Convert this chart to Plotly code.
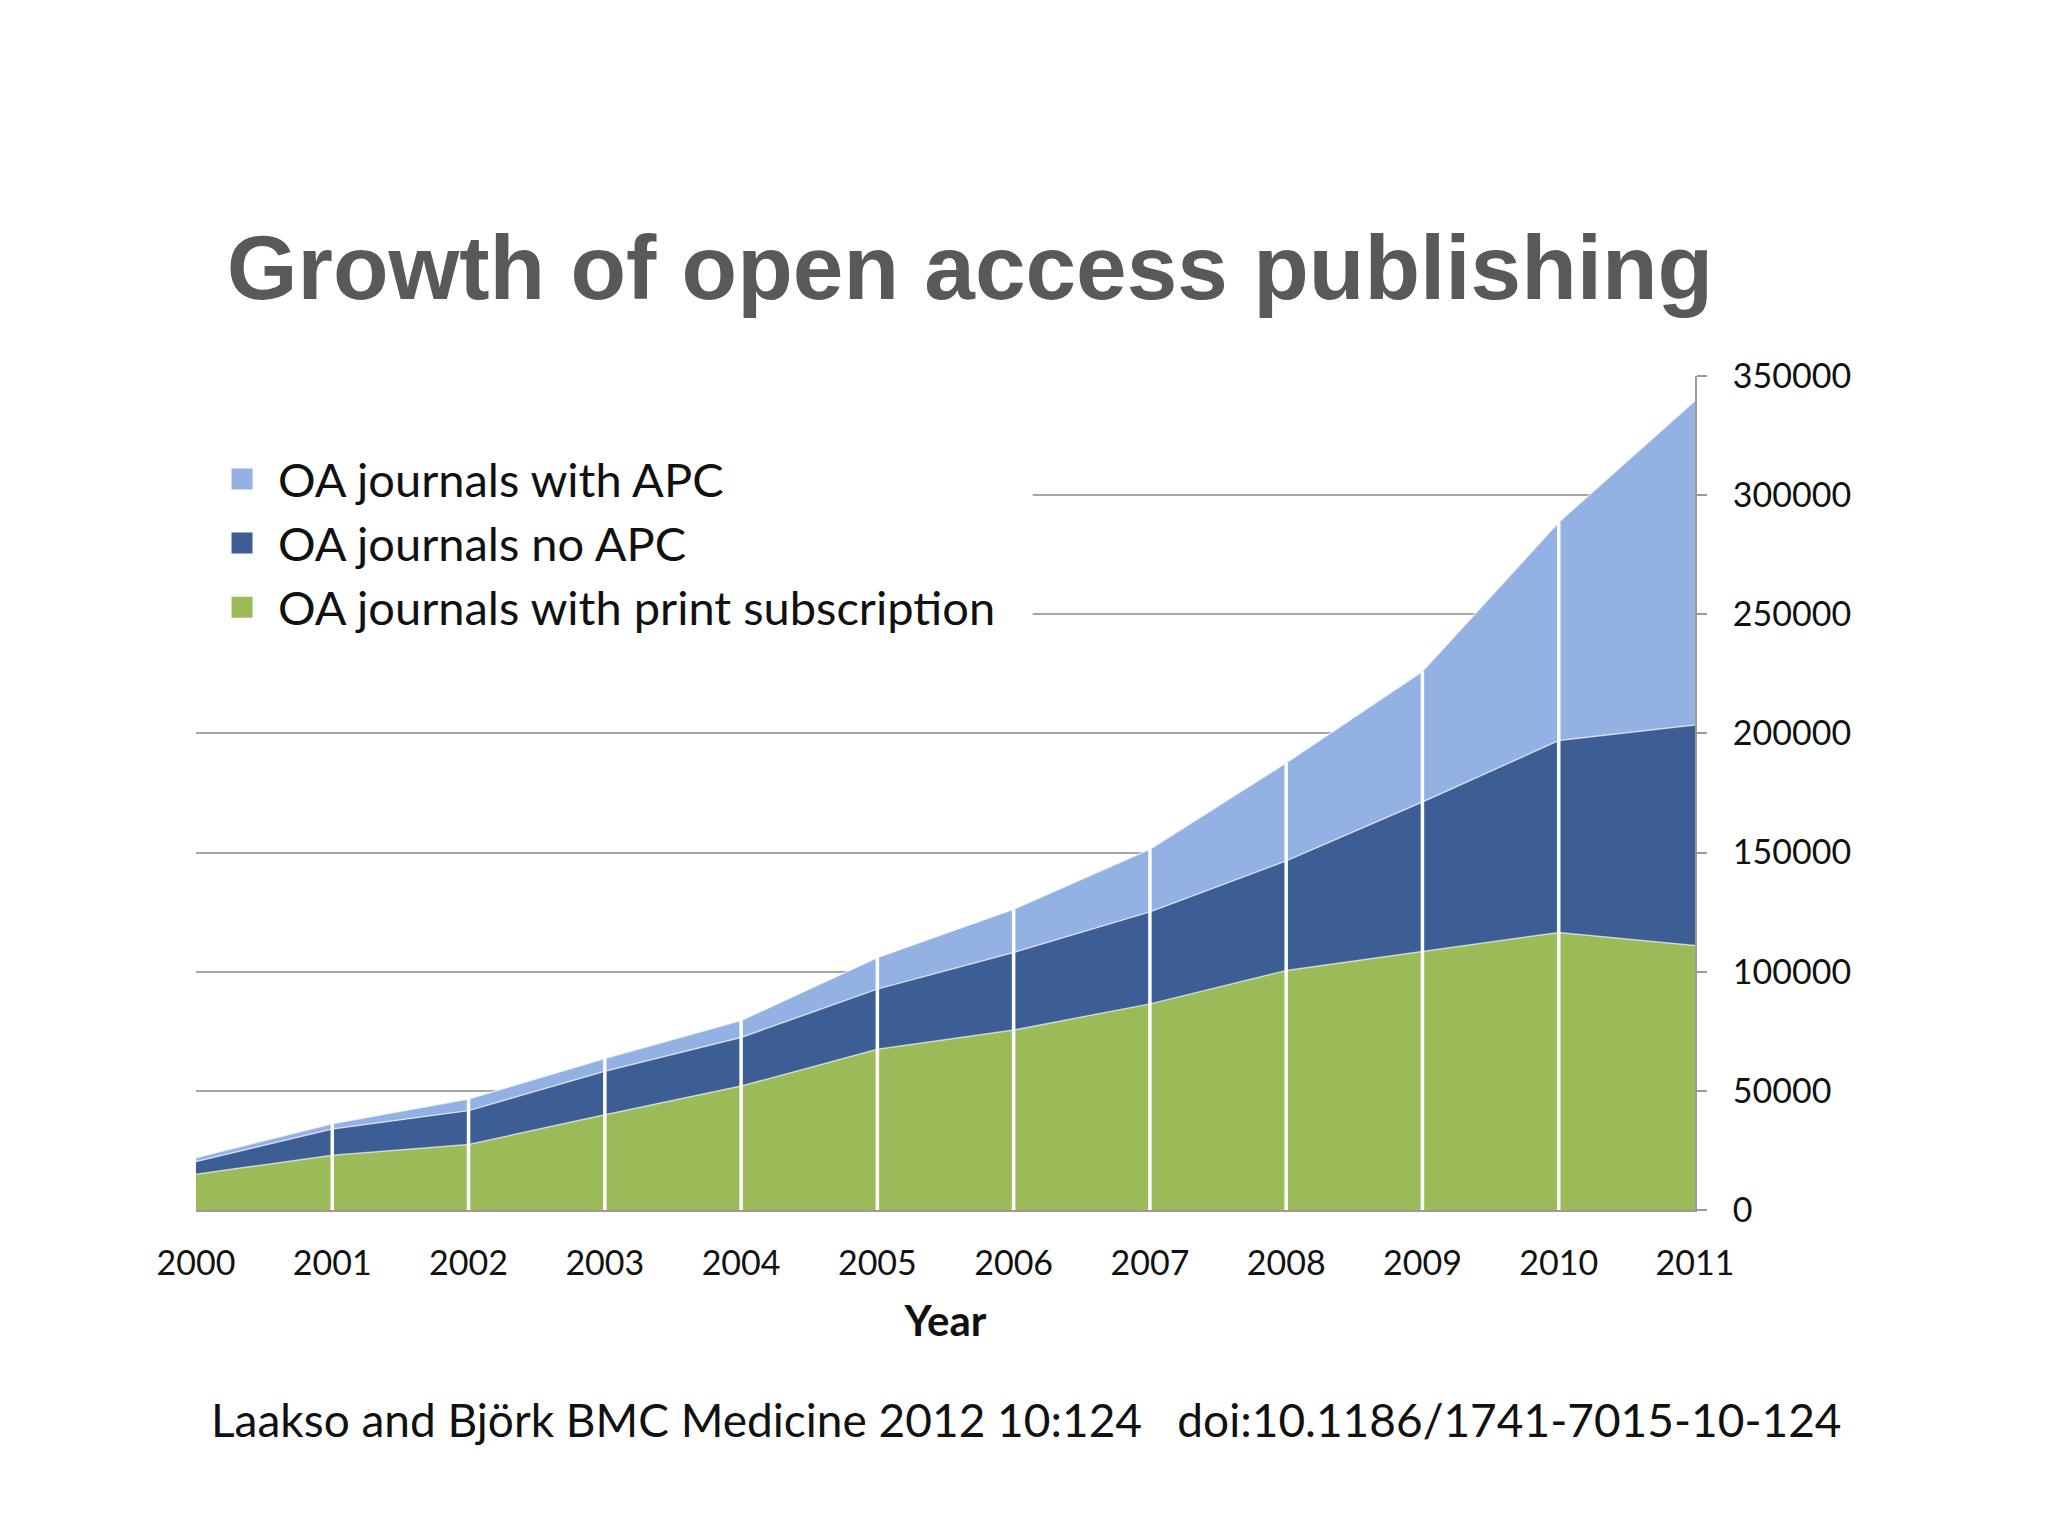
import plotly.graph_objects as go

# values (stacked area, each band's own height)
years = [2000, 2001, 2002, 2003, 2004, 2005, 2006, 2007, 2008, 2009, 2010, 2011]
print_subscription = [15000, 23000, 27500, 40000, 52000, 67500, 75500, 86500, 100500, 108500, 116500, 111000]
no_apc = [5300, 11000, 14200, 18200, 20400, 25200, 32600, 38600, 46000, 62700, 80500, 92500]
with_apc = [1600, 2200, 4900, 5400, 7100, 13200, 18100, 26300, 41100, 54800, 91600, 136100]

y_ticks = [0, 50000, 100000, 150000, 200000, 250000, 300000, 350000]

GREEN = "#9BBB59"
DARK_BLUE = "#3C5E94"
LIGHT_BLUE = "#93B1E3"
TEXT_FONT = "Lato"

fig = go.Figure()

series = [
    ("OA journals with print subscription", print_subscription, GREEN),
    ("OA journals no APC", no_apc, DARK_BLUE),
    ("OA journals with APC", with_apc, LIGHT_BLUE),
]

for name, vals, colour in series:
    fig.add_trace(go.Scatter(
        x=years, y=vals, name=name,
        stackgroup="oa", mode="lines",
        line=dict(color="rgba(255,255,255,0.6)", width=1.5),
        fillcolor=colour,
        showlegend=False,
        hoverinfo="x+y+name",
    ))

# white drop lines at every inner year, up to the stacked total
totals = [a + b + c for a, b, c in zip(print_subscription, no_apc, with_apc)]
drop_x, drop_y = [], []
for yr, tot in zip(years[1:-1], totals[1:-1]):
    drop_x += [yr, yr, None]
    drop_y += [0, tot, None]
fig.add_trace(go.Scatter(
    x=drop_x, y=drop_y, mode="lines",
    line=dict(color="white", width=3.5),
    showlegend=False, hoverinfo="skip",
))

# legend entries (square swatches), top item first
for name, vals, colour in reversed(series):
    fig.add_trace(go.Scatter(
        x=[None], y=[None], name=name, mode="markers",
        marker=dict(symbol="square", size=16, color=colour,
                    line=dict(color=colour, width=5)),
        showlegend=True,
    ))

fig.update_layout(
    width=2048, height=1536,
    paper_bgcolor="white", plot_bgcolor="white",
    margin=dict(l=188, r=361, t=368, b=334),
    font=dict(family=TEXT_FONT, color="#111111", size=34),
    title=dict(
        text="Growth of open access publishing",
        font=dict(family="Liberation Sans", size=91, color="#595959", weight="bold"),
        xref="container", yref="container",
        x=0.4697, y=1 - 259 / 1536, xanchor="center", yanchor="middle",
    ),
    legend=dict(
        x=0.0067, y=0.921, xanchor="left", yanchor="top",
        bgcolor="white",
        font=dict(family=TEXT_FONT, size=47, color="#111111"),
        traceorder="normal",
        itemsizing="trace",
        itemwidth=62,
        borderwidth=0,
    ),
    showlegend=True,
)

# white panel behind the legend hides the gridlines there (stays under the areas)
fig.add_shape(
    type="rect", xref="x", yref="y",
    x0=2000, x1=2006.14, y0=220000, y1=335000,
    fillcolor="white", line=dict(width=0), layer="between",
)

fig.update_xaxes(
    range=[2000, 2011],
    tickmode="array", tickvals=years, ticktext=[str(y) for y in years],
    showgrid=False, zeroline=False,
    showline=True, linecolor="#9a9a9a", linewidth=2,
    ticks="", ticklabelstandoff=22,
    tickfont=dict(family=TEXT_FONT, size=34, color="#111111"),
    title=dict(text="<b>Year</b>", font=dict(family=TEXT_FONT, size=42, color="#111111"), standoff=26),
)

fig.update_yaxes(
    range=[0, 350000], side="right",
    tickmode="array", tickvals=y_ticks, ticktext=[str(v) for v in y_ticks],
    showgrid=True, gridcolor="#a6a6a6", gridwidth=2,
    zeroline=False,
    showline=True, linecolor="#9a9a9a", linewidth=2,
    ticks="outside", ticklen=10, tickcolor="#9a9a9a", tickwidth=2,
    ticklabelstandoff=19,
    tickfont=dict(family=TEXT_FONT, size=34, color="#111111"),
)

fig.add_annotation(
    text="Laakso and Björk BMC Medicine 2012 10:124   doi:10.1186/1741-7015-10-124",
    xref="paper", yref="paper", x=0.554, y=-0.2506,
    xanchor="center", yanchor="middle", showarrow=False,
    font=dict(family=TEXT_FONT, size=46, color="#111111"),
)

fig.write_html("out.html")
